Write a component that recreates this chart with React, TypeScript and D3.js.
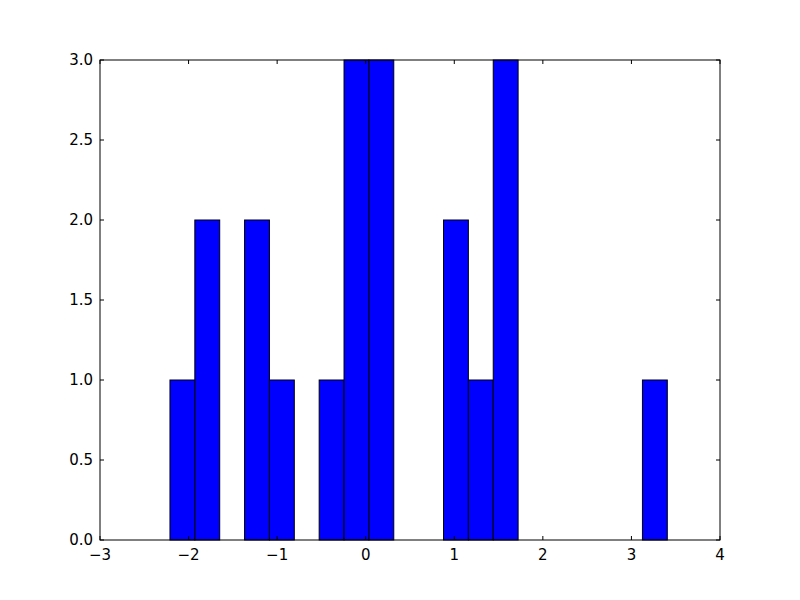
import React from 'react';
import * as d3 from 'd3';

// histogram: 20 equal bins between the sample min and max
const dataMin = -2.21;
const dataMax = 3.405;
const binCounts = [1, 2, 0, 2, 1, 0, 1, 3, 3, 0, 0, 2, 1, 3, 0, 0, 0, 0, 0, 1];
const xTicks = [-3, -2, -1, 0, 1, 2, 3, 4];
const yTicks = [0, 0.5, 1, 1.5, 2, 2.5, 3];

const width = 800;
const height = 600;
const margin = { top: 60, right: 80, bottom: 60, left: 100 };

const fmtX = (v: number) => (v < 0 ? '\u2212' + Math.abs(v) : String(v));
const fmtY = (v: number) => v.toFixed(1);

const App: React.FC = () => {
  const x = d3.scaleLinear().domain([-3, 4]).range([margin.left, width - margin.right]);
  const y = d3.scaleLinear().domain([0, 3]).range([height - margin.bottom, margin.top]);

  const binW = (dataMax - dataMin) / binCounts.length;
  const bins = binCounts.map((c, i) => ({ x0: dataMin + i * binW, x1: dataMin + (i + 1) * binW, count: c }));

  const x0 = margin.left, x1 = width - margin.right;
  const y0 = height - margin.bottom, y1 = margin.top;
  const tick = 4;

  return (
    <svg width={width} height={height} style={{ display: 'block', margin: -8 }} fontFamily="DejaVu Sans" fontSize={15}>
      <rect width={width} height={height} fill="#fff" />
      {bins.filter(b => b.count > 0).map((b, i) => (
        <rect key={i} x={x(b.x0)} y={y(b.count)} width={x(b.x1) - x(b.x0)} height={y(0) - y(b.count)}
          fill="#0000ff" stroke="#000" strokeWidth={1} />
      ))}
      {xTicks.map(t => (
        <g key={'x' + t}>
          <line x1={x(t)} x2={x(t)} y1={y0} y2={y0 - tick} stroke="#000" />
          <line x1={x(t)} x2={x(t)} y1={y1} y2={y1 + tick} stroke="#000" />
          <text x={x(t)} y={y0 + 19.5} textAnchor="middle" fill="#000">{fmtX(t)}</text>
        </g>
      ))}
      {yTicks.map(t => (
        <g key={'y' + t}>
          <line x1={x0} x2={x0 + tick} y1={y(t)} y2={y(t)} stroke="#000" />
          <line x1={x1} x2={x1 - tick} y1={y(t)} y2={y(t)} stroke="#000" />
          <text x={x0 - 7} y={y(t)} dy="0.36em" textAnchor="end" fill="#000">{fmtY(t)}</text>
        </g>
      ))}
      <rect x={x0} y={y1} width={x1 - x0} height={y0 - y1} fill="none" stroke="#000" strokeWidth={1} />
    </svg>
  );
};

export default App;
